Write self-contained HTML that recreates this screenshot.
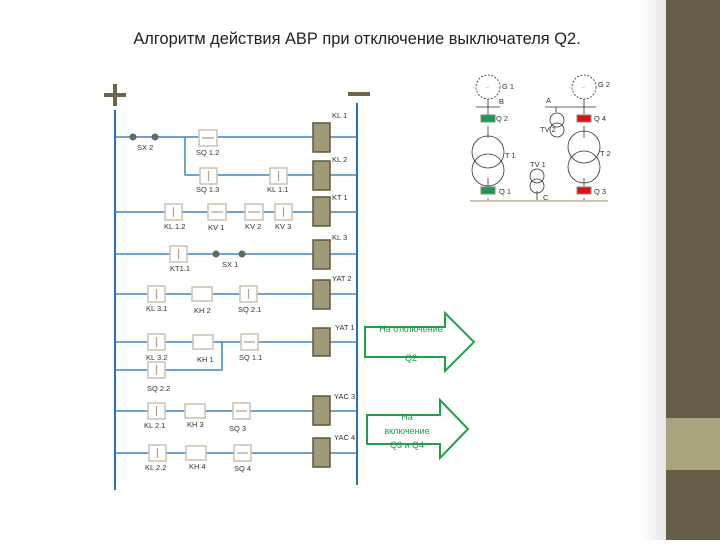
<!DOCTYPE html>
<html><head><meta charset="utf-8"><style>
body{margin:0;width:720px;height:540px;overflow:hidden;background:#fff;font-family:"Liberation Sans","DejaVu Sans",sans-serif}
</style></head><body>
<svg width="720" height="540" viewBox="0 0 720 540" xmlns="http://www.w3.org/2000/svg" font-family="Liberation Sans, DejaVu Sans, sans-serif">
<defs><linearGradient id="g" x1="0" x2="1"><stop offset="0" stop-color="#fff"/><stop offset="1" stop-color="#e8e8e8"/></linearGradient></defs>
<rect x="640" y="0" width="26" height="540" fill="url(#g)"/>
<rect x="666" y="0" width="54" height="540" fill="#655d48"/>
<rect x="666" y="418" width="54" height="52" fill="#a9a67f"/>
<text x="357" y="44" font-size="16.4" text-anchor="middle" fill="#222">Алгоритм действия АВР при отключение выключателя Q2.</text>
<g fill="#6b654a"><rect x="104" y="93" width="22" height="4"/><rect x="113" y="84" width="4" height="22"/><rect x="348" y="92" width="22" height="4"/></g>
<g stroke="#2a6fb0" stroke-width="2" fill="none">
<line x1="115" y1="110" x2="115" y2="490"/><line x1="357" y1="103" x2="357" y2="485"/>
</g>
<g stroke="#3f86c4" stroke-width="1.5" fill="none">
<path d="M115 137H357M185 137V175H357M115 212H357M115 254H357M115 294H357M115 342H357M115 370H222V342M115 411H357M115 453H357"/>
</g>
<g fill="#5f6b5f"><circle cx="133" cy="137" r="3.5"/><circle cx="155" cy="137" r="3.5"/><circle cx="216" cy="254" r="3.5"/><circle cx="242" cy="254" r="3.5"/></g>
<g fill="#fff" stroke="#c8c3b0" stroke-width="1.5">
<rect x="199" y="130" width="18" height="16"/>
<rect x="200" y="168" width="17" height="16"/><rect x="270" y="168" width="17" height="16"/>
<rect x="165" y="204" width="17" height="16"/><rect x="208" y="204" width="18" height="16"/><rect x="245" y="204" width="18" height="16"/><rect x="275" y="204" width="17" height="16"/>
<rect x="170" y="246" width="17" height="16"/>
<rect x="148" y="286" width="17" height="16"/><rect x="192" y="287" width="20" height="14"/><rect x="240" y="286" width="17" height="16"/>
<rect x="148" y="334" width="17" height="16"/><rect x="193" y="335" width="20" height="14"/><rect x="241" y="334" width="17" height="16"/>
<rect x="148" y="362" width="17" height="16"/>
<rect x="148" y="403" width="17" height="16"/><rect x="185" y="404" width="20" height="14"/><rect x="233" y="403" width="17" height="16"/>
<rect x="149" y="445" width="17" height="16"/><rect x="186" y="446" width="20" height="14"/><rect x="234" y="445" width="17" height="16"/>
</g>
<g stroke="#a8a395" stroke-width="1.2">
<path d="M202 138H214M208.5 171V181M278.5 171V181M173.5 207V217M211 212H223M248 212H260M283.5 207V217M178.5 249V259M156.5 289V299M248.5 289V299M156.5 337V347M244 342H255M156.5 365V375M156.5 406V416M236 411H247M157.5 448V458M237 453H248"/>
</g>
<g fill="#a09a78" stroke="#5e5838" stroke-width="1.5">
<rect x="313" y="123" width="17" height="29"/><rect x="313" y="161" width="17" height="29"/><rect x="313" y="197" width="17" height="29"/><rect x="313" y="240" width="17" height="29"/><rect x="313" y="280" width="17" height="29"/><rect x="313" y="328" width="17" height="28"/><rect x="313" y="396" width="17" height="29"/><rect x="313" y="438" width="17" height="29"/>
</g>
<g font-size="7.5" fill="#333">
<text x="332" y="118">KL 1</text><text x="332" y="162">KL 2</text><text x="332" y="200">KT 1</text><text x="332" y="240">KL 3</text><text x="332" y="281">YAT 2</text><text x="335" y="330">YAT 1</text><text x="334" y="399">YAC 3</text><text x="334" y="440">YAC 4</text>
<text x="137" y="150">SX 2</text><text x="196" y="155">SQ 1.2</text><text x="196" y="192">SQ 1.3</text><text x="267" y="192">KL 1.1</text>
<text x="164" y="229">KL 1.2</text><text x="208" y="230">KV 1</text><text x="245" y="229">KV 2</text><text x="275" y="229">KV 3</text>
<text x="170" y="271">KT1.1</text><text x="222" y="267">SX 1</text>
<text x="146" y="311">KL 3.1</text><text x="194" y="313">KH 2</text><text x="238" y="312">SQ 2.1</text>
<text x="146" y="360">KL 3.2</text><text x="197" y="362">KH 1</text><text x="239" y="360">SQ 1.1</text>
<text x="147" y="391">SQ 2.2</text>
<text x="144" y="428">KL 2.1</text><text x="187" y="427">KH 3</text><text x="229" y="431">SQ 3</text>
<text x="145" y="470">KL  2.2</text><text x="189" y="469">KH 4</text><text x="234" y="471">SQ 4</text>
</g>
<g fill="none" stroke="#1fa04a" stroke-width="2">
<path d="M365 327H445V313L474 342L445 371V357H365Z"/>
<path d="M367 415H440V400L468 429L440 458V444H367Z"/>
</g>
<g font-size="9" fill="#1fa04a" text-anchor="middle">
<text x="411" y="332">На отключение</text><text x="411" y="361">Q2</text>
<text x="407" y="420">На</text><text x="407" y="434">включение</text><text x="407" y="448">Q3 и Q4</text>
</g>
<g fill="none" stroke="#333" stroke-width="0.8" font-size="7.5">
<circle cx="488" cy="87" r="12" stroke-dasharray="2,1.5"/><circle cx="584" cy="87" r="12" stroke-dasharray="2,1.5"/>
<path d="M488 99V108M476 107H500M545 107H596M584 99V118M488 108V118M556 107V112M488 126V138M488 178V190M584 126V138M584 178V190M537 191V200M488 198V200M584 198V200M470 201H608"/>
<circle cx="488" cy="152" r="16"/><circle cx="488" cy="170" r="16"/>
<circle cx="584" cy="147" r="16"/><circle cx="584" cy="167" r="16"/>
<circle cx="557" cy="120" r="7"/><circle cx="557" cy="130" r="7"/>
<circle cx="537" cy="176" r="7"/><circle cx="537" cy="186" r="7"/>
</g>
<rect x="470" y="200" width="138" height="2" fill="#c8c5a8"/>
<g stroke="#888" stroke-width="1"><rect x="481" y="115" width="14" height="7" fill="#1a9a50"/><rect x="481" y="187" width="14" height="7" fill="#1a9a50"/><rect x="577" y="115" width="14" height="7" fill="#e01010"/><rect x="577" y="187" width="14" height="7" fill="#e01010"/></g>
<g font-size="7.5" fill="#333">
<text x="502" y="89">G 1</text><text x="598" y="87">G 2</text><text x="499" y="104">B</text><text x="546" y="103">A</text>
<text x="496" y="121">Q 2</text><text x="594" y="121">Q 4</text><text x="540" y="132">TV 2</text><text x="505" y="158">T 1</text><text x="600" y="156">T 2</text><text x="530" y="167">TV 1</text>
<text x="499" y="194">Q 1</text><text x="594" y="194">Q 3</text><text x="543" y="200">C</text>
<text x="486" y="88" font-size="5">..</text><text x="582" y="88" font-size="5">..</text>
</g>
</svg>
</body></html>
